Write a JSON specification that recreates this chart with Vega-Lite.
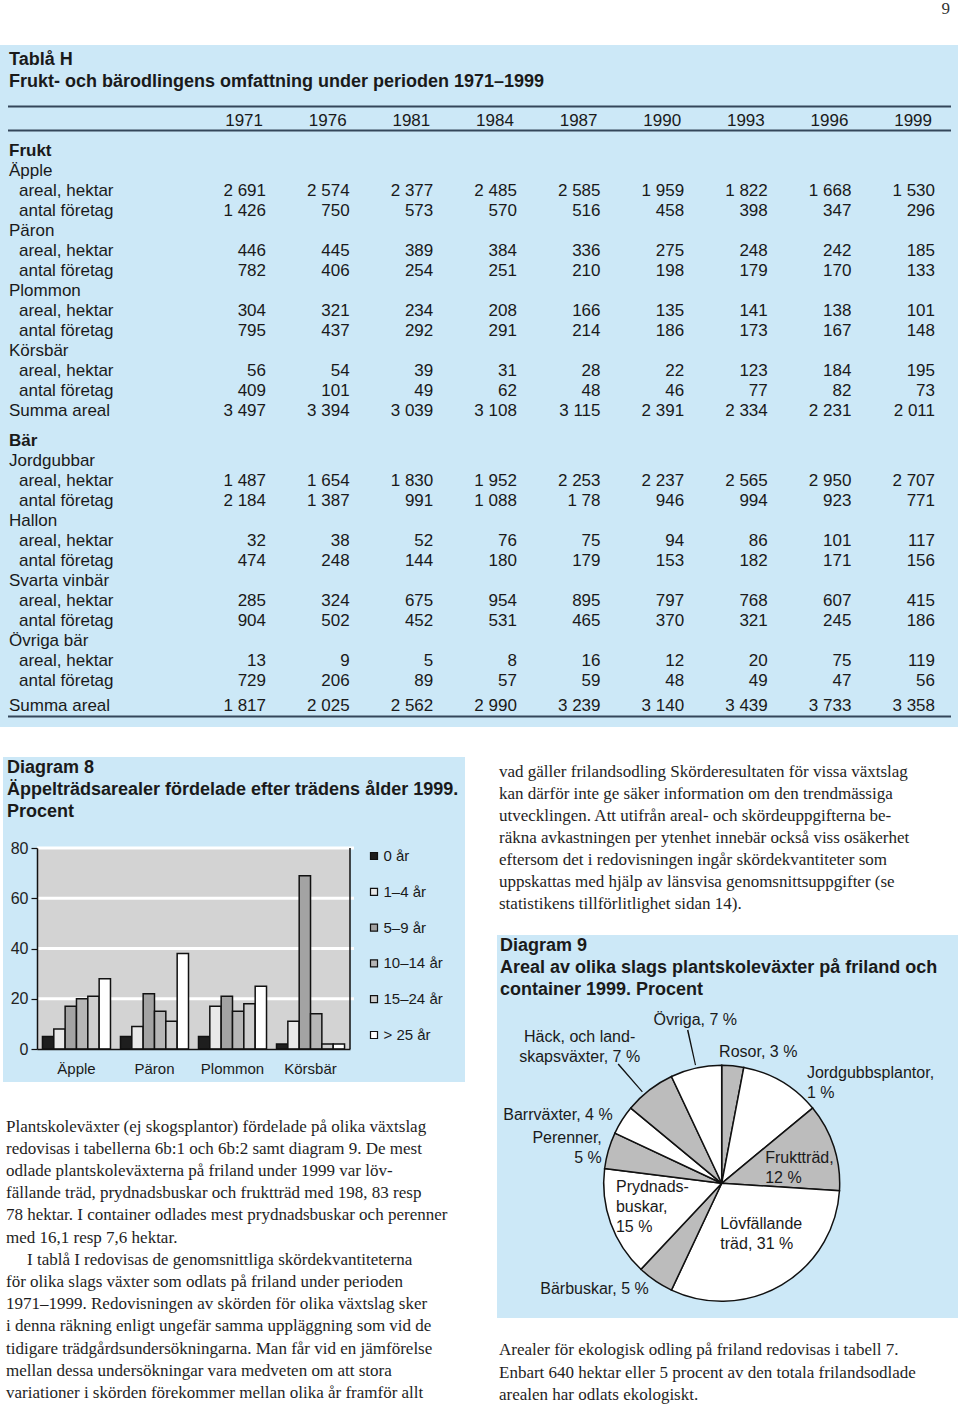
{
  "$schema": "https://vega.github.io/schema/vega-lite/v6.json",
  "padding": 0,
  "background": "#ffffff",
  "spacing": 0,
  "bounds": "full",
  "resolve": {"scale": {"color": "independent"}},
  "config": {"view": {"stroke": null}, "font": "Liberation Sans", "concat": {"spacing": 0}},
  "datasets": {
    "tabellrubrik": [
      {"r": -0.55, "t": "Tablå H"},
      {"r": 0.55, "t": "Frukt- och bärodlingens omfattning under perioden 1971–1999"}
    ],
    "linjer": [{"r": 1.78}, {"r": 2.98}, {"r": 32.28}],
    "arslista": [{"ar": "1971"}, {"ar": "1976"}, {"ar": "1981"}, {"ar": "1984"}, {"ar": "1987"}, {"ar": "1990"}, {"ar": "1993"}, {"ar": "1996"}, {"ar": "1999"}],
    "tabell": [
      {"r": 4, "rad": "Frukt", "niva": 0},
      {"r": 5, "rad": "Äpple", "niva": 0},
      {"r": 6, "rad": "areal, hektar", "niva": 1, "1971": "2 691", "1976": "2 574", "1981": "2 377", "1984": "2 485", "1987": "2 585", "1990": "1 959", "1993": "1 822", "1996": "1 668", "1999": "1 530"},
      {"r": 7, "rad": "antal företag", "niva": 1, "1971": "1 426", "1976": "750", "1981": "573", "1984": "570", "1987": "516", "1990": "458", "1993": "398", "1996": "347", "1999": "296"},
      {"r": 8, "rad": "Päron", "niva": 0},
      {"r": 9, "rad": "areal, hektar", "niva": 1, "1971": "446", "1976": "445", "1981": "389", "1984": "384", "1987": "336", "1990": "275", "1993": "248", "1996": "242", "1999": "185"},
      {"r": 10, "rad": "antal företag", "niva": 1, "1971": "782", "1976": "406", "1981": "254", "1984": "251", "1987": "210", "1990": "198", "1993": "179", "1996": "170", "1999": "133"},
      {"r": 11, "rad": "Plommon", "niva": 0},
      {"r": 12, "rad": "areal, hektar", "niva": 1, "1971": "304", "1976": "321", "1981": "234", "1984": "208", "1987": "166", "1990": "135", "1993": "141", "1996": "138", "1999": "101"},
      {"r": 13, "rad": "antal företag", "niva": 1, "1971": "795", "1976": "437", "1981": "292", "1984": "291", "1987": "214", "1990": "186", "1993": "173", "1996": "167", "1999": "148"},
      {"r": 14, "rad": "Körsbär", "niva": 0},
      {"r": 15, "rad": "areal, hektar", "niva": 1, "1971": "56", "1976": "54", "1981": "39", "1984": "31", "1987": "28", "1990": "22", "1993": "123", "1996": "184", "1999": "195"},
      {"r": 16, "rad": "antal företag", "niva": 1, "1971": "409", "1976": "101", "1981": "49", "1984": "62", "1987": "48", "1990": "46", "1993": "77", "1996": "82", "1999": "73"},
      {"r": 17, "rad": "Summa areal", "niva": 0, "1971": "3 497", "1976": "3 394", "1981": "3 039", "1984": "3 108", "1987": "3 115", "1990": "2 391", "1993": "2 334", "1996": "2 231", "1999": "2 011"},
      {"r": 18.5, "rad": "Bär", "niva": 0},
      {"r": 19.5, "rad": "Jordgubbar", "niva": 0},
      {"r": 20.5, "rad": "areal, hektar", "niva": 1, "1971": "1 487", "1976": "1 654", "1981": "1 830", "1984": "1 952", "1987": "2 253", "1990": "2 237", "1993": "2 565", "1996": "2 950", "1999": "2 707"},
      {"r": 21.5, "rad": "antal företag", "niva": 1, "1971": "2 184", "1976": "1 387", "1981": "991", "1984": "1 088", "1987": "1 78", "1990": "946", "1993": "994", "1996": "923", "1999": "771"},
      {"r": 22.5, "rad": "Hallon", "niva": 0},
      {"r": 23.5, "rad": "areal, hektar", "niva": 1, "1971": "32", "1976": "38", "1981": "52", "1984": "76", "1987": "75", "1990": "94", "1993": "86", "1996": "101", "1999": "117"},
      {"r": 24.5, "rad": "antal företag", "niva": 1, "1971": "474", "1976": "248", "1981": "144", "1984": "180", "1987": "179", "1990": "153", "1993": "182", "1996": "171", "1999": "156"},
      {"r": 25.5, "rad": "Svarta vinbär", "niva": 0},
      {"r": 26.5, "rad": "areal, hektar", "niva": 1, "1971": "285", "1976": "324", "1981": "675", "1984": "954", "1987": "895", "1990": "797", "1993": "768", "1996": "607", "1999": "415"},
      {"r": 27.5, "rad": "antal företag", "niva": 1, "1971": "904", "1976": "502", "1981": "452", "1984": "531", "1987": "465", "1990": "370", "1993": "321", "1996": "245", "1999": "186"},
      {"r": 28.5, "rad": "Övriga bär", "niva": 0},
      {"r": 29.5, "rad": "areal, hektar", "niva": 1, "1971": "13", "1976": "9", "1981": "5", "1984": "8", "1987": "16", "1990": "12", "1993": "20", "1996": "75", "1999": "119"},
      {"r": 30.5, "rad": "antal företag", "niva": 1, "1971": "729", "1976": "206", "1981": "89", "1984": "57", "1987": "59", "1990": "48", "1993": "49", "1996": "47", "1999": "56"},
      {"r": 31.75, "rad": "Summa areal", "niva": 0, "1971": "1 817", "1976": "2 025", "1981": "2 562", "1984": "2 990", "1987": "3 239", "1990": "3 140", "1993": "3 439", "1996": "3 733", "1999": "3 358"}
    ],
    "d8rubrik": [
      {"rad": 0, "t": "Diagram 8"},
      {"rad": 1, "t": "Äppelträdsarealer fördelade efter trädens ålder 1999."},
      {"rad": 2, "t": "Procent"}
    ],
    "stodlinjer": [{"v": 20}, {"v": 40}, {"v": 60}, {"v": 80}],
    "appelalder": [
      {"frukt": "Äpple", "alder": "0 år", "procent": 5},
      {"frukt": "Äpple", "alder": "1–4 år", "procent": 8},
      {"frukt": "Äpple", "alder": "5–9 år", "procent": 17},
      {"frukt": "Äpple", "alder": "10–14 år", "procent": 20},
      {"frukt": "Äpple", "alder": "15–24 år", "procent": 21},
      {"frukt": "Äpple", "alder": "> 25 år", "procent": 28},
      {"frukt": "Päron", "alder": "0 år", "procent": 5},
      {"frukt": "Päron", "alder": "1–4 år", "procent": 9},
      {"frukt": "Päron", "alder": "5–9 år", "procent": 22},
      {"frukt": "Päron", "alder": "10–14 år", "procent": 15},
      {"frukt": "Päron", "alder": "15–24 år", "procent": 11},
      {"frukt": "Päron", "alder": "> 25 år", "procent": 38},
      {"frukt": "Plommon", "alder": "0 år", "procent": 5},
      {"frukt": "Plommon", "alder": "1–4 år", "procent": 17},
      {"frukt": "Plommon", "alder": "5–9 år", "procent": 21},
      {"frukt": "Plommon", "alder": "10–14 år", "procent": 15},
      {"frukt": "Plommon", "alder": "15–24 år", "procent": 18},
      {"frukt": "Plommon", "alder": "> 25 år", "procent": 25},
      {"frukt": "Körsbär", "alder": "0 år", "procent": 2},
      {"frukt": "Körsbär", "alder": "1–4 år", "procent": 11},
      {"frukt": "Körsbär", "alder": "5–9 år", "procent": 69},
      {"frukt": "Körsbär", "alder": "10–14 år", "procent": 14},
      {"frukt": "Körsbär", "alder": "15–24 år", "procent": 2},
      {"frukt": "Körsbär", "alder": "> 25 år", "procent": 2}
    ],
    "d9rubrik": [
      {"rad": 0, "t": "Diagram 9"},
      {"rad": 1, "t": "Areal av olika slags plantskoleväxter på friland och"},
      {"rad": 2, "t": "container 1999. Procent"}
    ],
    "plantskola": [
      {"i": 1, "slag": "Rosor", "andel": 3, "etikett": "Rosor, 3 %"},
      {"i": 2, "slag": "Jordgubbsplantor", "andel": 11, "etikett": "Jordgubbsplantor,\n1 %"},
      {"i": 3, "slag": "Fruktträd", "andel": 12, "etikett": "Fruktträd,\n12 %"},
      {"i": 4, "slag": "Lövfällande träd", "andel": 31, "etikett": "Lövfällande\nträd, 31 %"},
      {"i": 5, "slag": "Bärbuskar", "andel": 5, "etikett": "Bärbuskar, 5 %"},
      {"i": 6, "slag": "Prydnadsbuskar", "andel": 15, "etikett": "Prydnads-\nbuskar,\n15 %"},
      {"i": 7, "slag": "Perenner", "andel": 5, "etikett": "Perenner,\n5 %"},
      {"i": 8, "slag": "Barrväxter", "andel": 4, "etikett": "Barrväxter, 4 %"},
      {"i": 9, "slag": "Häck- och landskapsväxter", "andel": 7, "etikett": "Häck, och land-\nskapsväxter, 7 %"},
      {"i": 10, "slag": "Övriga", "andel": 7, "etikett": "Övriga, 7 %"}
    ],
    "text_vanster": [
      {"rad": 0, "t": "Plantskoleväxter (ej skogsplantor) fördelade på olika växtslag"},
      {"rad": 1, "t": "redovisas i tabellerna 6b:1 och 6b:2 samt diagram 9. De mest"},
      {"rad": 2, "t": "odlade plantskoleväxterna på friland under 1999 var löv-"},
      {"rad": 3, "t": "fällande träd, prydnadsbuskar och fruktträd med 198, 83 resp"},
      {"rad": 4, "t": "78 hektar. I container odlades mest prydnadsbuskar och perenner"},
      {"rad": 5, "t": "med 16,1 resp 7,6 hektar."},
      {"rad": 6, "t": "I tablå I redovisas de genomsnittliga skördekvantiteterna"},
      {"rad": 7, "t": "för olika slags växter som odlats på friland under perioden"},
      {"rad": 8, "t": "1971–1999. Redovisningen av skörden för olika växtslag sker"},
      {"rad": 9, "t": "i denna räkning enligt ungefär samma uppläggning som vid de"},
      {"rad": 10, "t": "tidigare trädgårdsundersökningarna. Man får vid en jämförelse"},
      {"rad": 11, "t": "mellan dessa undersökningar vara medveten om att stora"},
      {"rad": 12, "t": "variationer i skörden förekommer mellan olika år framför allt"}
    ],
    "text_hoger_ovan": [
      {"rad": 0, "t": "vad gäller frilandsodling Skörderesultaten för vissa växtslag"},
      {"rad": 1, "t": "kan därför inte ge säker information om den trendmässiga"},
      {"rad": 2, "t": "utvecklingen. Att utifrån areal- och skördeuppgifterna be-"},
      {"rad": 3, "t": "räkna avkastningen per ytenhet innebär också viss osäkerhet"},
      {"rad": 4, "t": "eftersom det i redovisningen ingår skördekvantiteter som"},
      {"rad": 5, "t": "uppskattas med hjälp av länsvisa genomsnittsuppgifter (se"},
      {"rad": 6, "t": "statistikens tillförlitlighet sidan 14)."}
    ],
    "text_hoger_nedan": [
      {"rad": 0, "t": "Arealer för ekologisk odling på friland redovisas i tabell 7."},
      {"rad": 1, "t": "Enbart 640 hektar eller 5 procent av den totala frilandsodlade"},
      {"rad": 2, "t": "arealen har odlats ekologiskt."}
    ]
  },
  "vconcat": [
    {
      "width": 960, "height": 45,
      "data": {"values": [{"sida": "9"}]},
      "mark": {"type": "text", "align": "right", "baseline": "middle", "dx": -10, "dy": -13.5, "font": "Liberation Serif", "fontSize": 17, "color": "#333333"},
      "encoding": {"x": {"value": "width"}, "text": {"field": "sida", "type": "nominal"}}
    },
    {
      "hconcat": [
        {"width": 8, "height": 682, "view": {"fill": "#cce8f7", "stroke": null}, "data": {"values": [{}]}, "mark": "text", "encoding": {"text": {"value": ""}}},
        {
          "width": 943, "height": 682,
          "view": {"fill": "#cce8f7", "stroke": null},
          "resolve": {"scale": {"x": "independent"}},
          "layer": [
            {
              "data": {"name": "linjer"},
              "mark": {"type": "rule", "color": "#34465a", "strokeWidth": 2},
              "encoding": {"y": {"field": "r", "type": "quantitative", "scale": {"domain": [-1.3, 32.8], "reverse": true, "nice": false, "zero": false}, "axis": null}}
            },
            {
              "data": {"name": "tabellrubrik"},
              "mark": {"type": "text", "align": "left", "baseline": "middle", "fontWeight": "bold", "fontSize": 18, "color": "#1a1a1a", "dx": 1},
              "encoding": {
                "x": {"datum": 0, "type": "quantitative", "scale": {"domain": [0, 1], "nice": false, "zero": false}, "axis": null},
                "y": {"field": "r", "type": "quantitative", "scale": {"domain": [-1.3, 32.8], "reverse": true, "nice": false, "zero": false}, "axis": null},
                "text": {"field": "t", "type": "nominal"}
              }
            },
            {
              "data": {"name": "arslista"},
              "mark": {"type": "text", "align": "right", "baseline": "middle", "fontSize": 17, "color": "#1a1a1a", "dx": -3},
              "encoding": {
                "x": {"field": "ar", "type": "ordinal", "scale": {"type": "point", "range": [258, 927], "padding": 0}, "axis": null},
                "y": {"datum": 2.5, "type": "quantitative", "scale": {"domain": [-1.3, 32.8], "reverse": true, "nice": false, "zero": false}, "axis": null},
                "text": {"field": "ar", "type": "nominal"}
              }
            },
            {
              "data": {"name": "tabell"},
              "transform": [{"filter": "datum.rad === 'Frukt' || datum.rad === 'Bär'"}],
              "mark": {"type": "text", "align": "left", "baseline": "middle", "fontWeight": "bold", "fontSize": 17, "color": "#1a1a1a", "dx": 1},
              "encoding": {
                "x": {"datum": 0, "type": "quantitative", "scale": {"domain": [0, 1], "nice": false, "zero": false}, "axis": null},
                "y": {"field": "r", "type": "quantitative", "scale": {"domain": [-1.3, 32.8], "reverse": true, "nice": false, "zero": false}, "axis": null},
                "text": {"field": "rad", "type": "nominal"}
              }
            },
            {
              "data": {"name": "tabell"},
              "transform": [{"filter": "datum.niva === 0 && datum.rad !== 'Frukt' && datum.rad !== 'Bär'"}],
              "mark": {"type": "text", "align": "left", "baseline": "middle", "fontSize": 17, "color": "#1a1a1a", "dx": 1},
              "encoding": {
                "x": {"datum": 0, "type": "quantitative", "scale": {"domain": [0, 1], "nice": false, "zero": false}, "axis": null},
                "y": {"field": "r", "type": "quantitative", "scale": {"domain": [-1.3, 32.8], "reverse": true, "nice": false, "zero": false}, "axis": null},
                "text": {"field": "rad", "type": "nominal"}
              }
            },
            {
              "data": {"name": "tabell"},
              "transform": [{"filter": "datum.niva === 1"}],
              "mark": {"type": "text", "align": "left", "baseline": "middle", "fontSize": 17, "color": "#1a1a1a", "dx": 11},
              "encoding": {
                "x": {"datum": 0, "type": "quantitative", "scale": {"domain": [0, 1], "nice": false, "zero": false}, "axis": null},
                "y": {"field": "r", "type": "quantitative", "scale": {"domain": [-1.3, 32.8], "reverse": true, "nice": false, "zero": false}, "axis": null},
                "text": {"field": "rad", "type": "nominal"}
              }
            },
            {
              "data": {"name": "tabell"},
              "transform": [
                {"fold": ["1971", "1976", "1981", "1984", "1987", "1990", "1993", "1996", "1999"], "as": ["ar", "varde"]},
                {"filter": "isValid(datum.varde)"}
              ],
              "mark": {"type": "text", "align": "right", "baseline": "middle", "fontSize": 17, "color": "#1a1a1a"},
              "encoding": {
                "x": {"field": "ar", "type": "ordinal", "scale": {"type": "point", "range": [258, 927], "padding": 0}, "axis": null},
                "y": {"field": "r", "type": "quantitative", "scale": {"domain": [-1.3, 32.8], "reverse": true, "nice": false, "zero": false}, "axis": null},
                "text": {"field": "varde", "type": "nominal"}
              }
            }
          ]
        },
        {"width": 7, "height": 682, "view": {"fill": "#cce8f7", "stroke": null}, "data": {"values": [{}]}, "mark": "text", "encoding": {"text": {"value": ""}}}
      ],
      "spacing": 0,
      "bounds": "flush"
    },
    {"width": 1, "height": 30, "data": {"values": [{}]}, "mark": "text", "encoding": {"text": {"value": ""}}},
    {
      "hconcat": [
        {"width": 3, "height": 650, "data": {"values": [{}]}, "mark": "text", "encoding": {"text": {"value": ""}}},
        {
          "vconcat": [
            {
              "width": 462, "height": 325,
              "view": {"fill": "#cce8f7", "stroke": null},
              "resolve": {"scale": {"x": "independent", "y": "independent"}},
              "layer": [
                {
                  "data": {"name": "d8rubrik"},
                  "mark": {"type": "text", "align": "left", "baseline": "middle", "fontWeight": "bold", "fontSize": 18, "color": "#1a1a1a", "dx": 4},
                  "encoding": {
                    "x": {"datum": 0, "type": "quantitative", "scale": {"domain": [0, 1], "nice": false, "zero": false}, "axis": null},
                    "y": {"field": "rad", "type": "quantitative", "scale": {"domain": [-0.5, 14.27], "reverse": true, "nice": false, "zero": false}, "axis": null},
                    "text": {"field": "t", "type": "nominal"}
                  }
                },
                {
                  "data": {"values": [{}]},
                  "mark": {"type": "rect", "color": "#d3d3d3"},
                  "encoding": {
                    "x": {"datum": 0, "type": "quantitative", "scale": {"domain": [0, 1], "range": [34, 347], "nice": false, "zero": false}, "axis": null},
                    "x2": {"datum": 1},
                    "y": {"datum": 0, "type": "quantitative", "scale": {"domain": [0, 80], "range": [292, 91], "nice": false, "zero": false}, "axis": null},
                    "y2": {"datum": 80}
                  }
                },
                {
                  "data": {"name": "stodlinjer"},
                  "mark": {"type": "rule", "color": "#ffffff", "strokeWidth": 3},
                  "encoding": {
                    "x": {"datum": 0, "type": "quantitative", "scale": {"domain": [0, 1], "range": [34, 351], "nice": false, "zero": false}, "axis": null},
                    "x2": {"datum": 1},
                    "y": {"field": "v", "type": "quantitative", "scale": {"domain": [0, 80], "range": [292, 91], "nice": false, "zero": false}, "axis": null}
                  }
                },
                {
                  "data": {"name": "appelalder"},
                  "mark": {"type": "bar", "stroke": "#111111", "strokeWidth": 1.5},
                  "encoding": {
                    "x": {"field": "frukt", "type": "nominal", "sort": ["Äpple", "Päron", "Plommon", "Körsbär"], "scale": {"type": "band", "range": [34, 347], "paddingInner": 0.128, "paddingOuter": 0.07}, "axis": {"title": null, "orient": "bottom", "offset": -33, "ticks": false, "tickSize": 0, "labelPadding": 12, "labelAngle": 0, "labelFont": "Liberation Sans", "labelFontSize": 15, "labelColor": "#1a1a1a", "domainColor": "#111111", "domainWidth": 1.5, "grid": false, "zindex": 1}},
                    "xOffset": {"field": "alder", "type": "nominal", "sort": ["0 år", "1–4 år", "5–9 år", "10–14 år", "15–24 år", "> 25 år"], "scale": {"paddingInner": 0, "paddingOuter": 0}},
                    "y": {"field": "procent", "type": "quantitative", "scale": {"domain": [0, 80], "range": [292, 91], "nice": false, "zero": false}, "axis": {"title": null, "orient": "left", "offset": -34, "values": [0, 20, 40, 60, 80], "grid": false, "domainColor": "#111111", "domainWidth": 1.5, "tickColor": "#111111", "tickSize": 6, "tickWidth": 1.2, "labelFont": "Liberation Sans", "labelFontSize": 16, "labelColor": "#222222", "labelPadding": 3, "zindex": 1}},
                    "color": {"field": "alder", "type": "nominal", "scale": {"domain": ["0 år", "1–4 år", "5–9 år", "10–14 år", "15–24 år", "> 25 år"], "range": ["#1e1e1e", "#e9e9e9", "#a3a3a3", "#b6b6b6", "#cfcfcf", "#ffffff"]}, "legend": {"orient": "none", "legendX": 363.5, "legendY": 91.5, "title": null, "symbolType": "square", "symbolSize": 49, "symbolStrokeColor": "#111111", "symbolStrokeWidth": 1.2, "symbolOpacity": 1, "labelFont": "Liberation Sans", "labelFontSize": 15, "labelColor": "#1a1a1a", "labelOffset": 2, "rowPadding": 19.8, "padding": 0}}
                  }
                },
                {
                  "data": {"values": [{}]},
                  "mark": {"type": "rule", "color": "#111111", "strokeWidth": 1.5},
                  "encoding": {
                    "x": {"datum": 1, "type": "quantitative", "scale": {"domain": [0, 1], "range": [34, 347], "nice": false, "zero": false}, "axis": null},
                    "y": {"datum": 0, "type": "quantitative", "scale": {"domain": [0, 80], "range": [292, 91], "nice": false, "zero": false}, "axis": null},
                    "y2": {"datum": 80}
                  }
                }
              ]
            },
            {
              "width": 462, "height": 325,
              "data": {"name": "text_vanster"},
              "encoding": {
                "x": {"datum": 0, "type": "quantitative", "scale": {"domain": [0, 1], "nice": false, "zero": false}, "axis": null},
                "y": {"field": "rad", "type": "quantitative", "scale": {"domain": [-2.013, 12.626], "reverse": true, "nice": false, "zero": false}, "axis": null},
                "text": {"field": "t", "type": "nominal"}
              },
              "layer": [
                {
                  "transform": [{"filter": "datum.rad !== 6"}],
                  "mark": {"type": "text", "align": "left", "baseline": "middle", "font": "Liberation Serif", "fontSize": 17, "color": "#1e1e1e", "dx": 3}
                },
                {
                  "transform": [{"filter": "datum.rad === 6"}],
                  "mark": {"type": "text", "align": "left", "baseline": "middle", "font": "Liberation Serif", "fontSize": 17, "color": "#1e1e1e", "dx": 24}
                }
              ]
            }
          ],
          "spacing": 0,
          "bounds": "flush",
          "resolve": {"scale": {"color": "independent"}}
        },
        {"width": 32, "height": 650, "data": {"values": [{}]}, "mark": "text", "encoding": {"text": {"value": ""}}},
        {
          "vconcat": [
            {
              "width": 461, "height": 178,
              "data": {"name": "text_hoger_ovan"},
              "mark": {"type": "text", "align": "left", "baseline": "middle", "font": "Liberation Serif", "fontSize": 17, "color": "#1e1e1e", "dx": 2},
              "encoding": {
                "x": {"datum": 0, "type": "quantitative", "scale": {"domain": [0, 1], "nice": false, "zero": false}, "axis": null},
                "y": {"field": "rad", "type": "quantitative", "scale": {"domain": [-0.683, 7.426], "reverse": true, "nice": false, "zero": false}, "axis": null},
                "text": {"field": "t", "type": "nominal"}
              }
            },
            {
              "width": 461, "height": 383,
              "view": {"fill": "#cce8f7", "stroke": null},
              "layer": [
                {
                  "data": {"name": "d9rubrik"},
                  "mark": {"type": "text", "align": "left", "baseline": "middle", "fontWeight": "bold", "fontSize": 18, "color": "#1a1a1a", "dx": 3},
                  "encoding": {
                    "x": {"datum": 0, "type": "quantitative", "scale": {"domain": [0, 1], "nice": false, "zero": false}, "axis": null},
                    "y": {"field": "rad", "type": "quantitative", "scale": {"domain": [-0.5, 16.909], "reverse": true, "nice": false, "zero": false}, "axis": null},
                    "text": {"field": "t", "type": "nominal"}
                  }
                },
                {
                  "data": {"name": "plantskola"},
                  "encoding": {
                    "theta": {"field": "andel", "type": "quantitative", "stack": true},
                    "order": {"field": "i", "type": "quantitative"}
                  },
                  "layer": [
                    {
                      "mark": {"type": "arc", "outerRadius": 118, "stroke": "#111111", "strokeWidth": 1.5, "xOffset": -5.8, "yOffset": 56.8},
                      "encoding": {"color": {"field": "slag", "type": "nominal", "scale": {"domain": ["Rosor", "Jordgubbsplantor", "Fruktträd", "Lövfällande träd", "Bärbuskar", "Prydnadsbuskar", "Perenner", "Barrväxter", "Häck- och landskapsväxter", "Övriga"], "range": ["#bcbcbc", "#ffffff", "#bcbcbc", "#ffffff", "#bcbcbc", "#ffffff", "#bcbcbc", "#ffffff", "#bcbcbc", "#ffffff"]}, "legend": null}}
                    },
                    {
                      "mark": {"type": "text", "radius": 72, "align": "left", "baseline": "middle", "dx": -25, "dy": -3, "xOffset": -5.8, "yOffset": 56.8, "lineBreak": "\n", "lineHeight": 20, "fontSize": 16, "color": "#1a1a1a"},
                      "encoding": {"text": {"condition": {"test": "datum.slag === 'Fruktträd'", "field": "etikett", "type": "nominal"}, "value": ""}}
                    },
                    {
                      "mark": {"type": "text", "radius": 72, "align": "left", "baseline": "middle", "dx": -38, "dy": -21, "xOffset": -5.8, "yOffset": 56.8, "lineBreak": "\n", "lineHeight": 20, "fontSize": 16, "color": "#1a1a1a"},
                      "encoding": {"text": {"condition": {"test": "indexof(['Lövfällande träd','Prydnadsbuskar'], datum.slag) >= 0", "field": "etikett", "type": "nominal"}, "value": ""}}
                    },
                    {
                      "mark": {"type": "text", "radius": 132, "align": "left", "baseline": "middle", "dx": -15, "xOffset": -5.8, "yOffset": 56.8, "lineBreak": "\n", "lineHeight": 20, "fontSize": 16, "color": "#1a1a1a"},
                      "encoding": {"text": {"condition": {"test": "datum.slag === 'Rosor'", "field": "etikett", "type": "nominal"}, "value": ""}}
                    },
                    {
                      "mark": {"type": "text", "radius": 132, "align": "left", "baseline": "middle", "dx": 18, "dy": 3, "xOffset": -5.8, "yOffset": 56.8, "lineBreak": "\n", "lineHeight": 20, "fontSize": 16, "color": "#1a1a1a"},
                      "encoding": {"text": {"condition": {"test": "datum.slag === 'Jordgubbsplantor'", "field": "etikett", "type": "nominal"}, "value": ""}}
                    },
                    {
                      "mark": {"type": "text", "radius": 128, "align": "right", "baseline": "middle", "dx": -1, "xOffset": -5.8, "yOffset": 56.8, "lineBreak": "\n", "lineHeight": 20, "fontSize": 16, "color": "#1a1a1a"},
                      "encoding": {"text": {"condition": {"test": "indexof(['Bärbuskar','Barrväxter'], datum.slag) >= 0", "field": "etikett", "type": "nominal"}, "value": ""}}
                    },
                    {
                      "mark": {"type": "text", "radius": 128, "align": "right", "baseline": "middle", "dx": 3, "dy": -10, "xOffset": -5.8, "yOffset": 56.8, "lineBreak": "\n", "lineHeight": 20, "fontSize": 16, "color": "#1a1a1a"},
                      "encoding": {"text": {"condition": {"test": "datum.slag === 'Perenner'", "field": "etikett", "type": "nominal"}, "value": ""}}
                    },
                    {
                      "mark": {"type": "text", "radius": 160, "align": "center", "baseline": "middle", "dx": -44, "dy": -20, "xOffset": -5.8, "yOffset": 56.8, "lineBreak": "\n", "lineHeight": 20, "fontSize": 16, "color": "#1a1a1a"},
                      "encoding": {"text": {"condition": {"test": "datum.slag === 'Häck- och landskapsväxter'", "field": "etikett", "type": "nominal"}, "value": ""}}
                    },
                    {
                      "mark": {"type": "text", "radius": 167, "align": "center", "baseline": "middle", "dx": 10, "xOffset": -5.8, "yOffset": 56.8, "lineBreak": "\n", "lineHeight": 20, "fontSize": 16, "color": "#1a1a1a"},
                      "encoding": {"text": {"condition": {"test": "datum.slag === 'Övriga'", "field": "etikett", "type": "nominal"}, "value": ""}}
                    }
                  ]
                },
                {
                  "data": {"values": [{}]},
                  "mark": {"type": "arc", "innerRadius": 121, "outerRadius": 157, "color": "#111111", "xOffset": -5.8, "yOffset": 56.8},
                  "encoding": {"theta": {"datum": 96.45}, "theta2": {"datum": 96.6}}
                },
                {
                  "data": {"values": [{}]},
                  "mark": {"type": "arc", "innerRadius": 121, "outerRadius": 158, "color": "#111111", "xOffset": -5.8, "yOffset": 56.8},
                  "encoding": {"theta": {"datum": 88.55}, "theta2": {"datum": 88.7}}
                }
              ]
            },
            {
              "width": 461, "height": 89,
              "data": {"name": "text_hoger_nedan"},
              "mark": {"type": "text", "align": "left", "baseline": "middle", "font": "Liberation Serif", "fontSize": 17, "color": "#1e1e1e", "dx": 2},
              "encoding": {
                "x": {"datum": 0, "type": "quantitative", "scale": {"domain": [0, 1], "nice": false, "zero": false}, "axis": null},
                "y": {"field": "rad", "type": "quantitative", "scale": {"domain": [-1.422, 2.533], "reverse": true, "nice": false, "zero": false}, "axis": null},
                "text": {"field": "t", "type": "nominal"}
              }
            }
          ],
          "spacing": 0,
          "bounds": "flush",
          "resolve": {"scale": {"color": "independent"}}
        }
      ],
      "spacing": 0,
      "bounds": "full",
      "resolve": {"scale": {"color": "independent"}}
    }
  ]
}
